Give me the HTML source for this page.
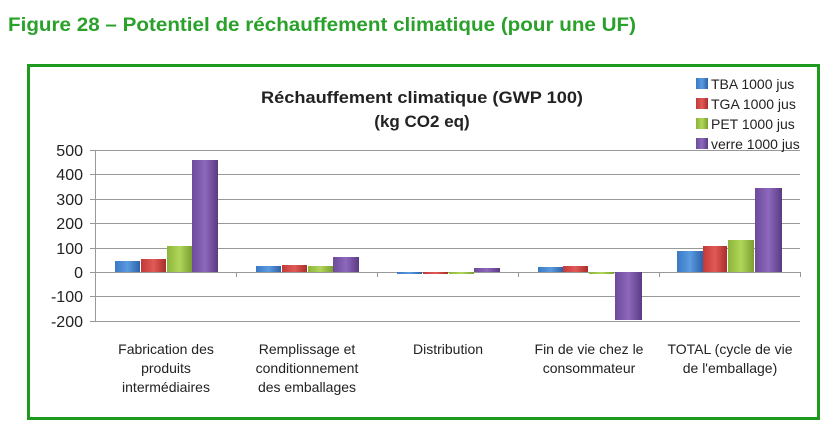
<!DOCTYPE html>
<html><head><meta charset="utf-8"><style>
body{margin:0;background:#fff;width:835px;height:443px;overflow:hidden;font-family:"Liberation Sans",sans-serif}
</style></head><body>
<svg width="835" height="443" xmlns="http://www.w3.org/2000/svg" font-family="Liberation Sans, sans-serif">
<defs>
<linearGradient id="b" x1="0" x2="1"><stop offset="0" stop-color="#3a78c4"/><stop offset=".5" stop-color="#5b9be0"/><stop offset="1" stop-color="#2c62a8"/></linearGradient>
<linearGradient id="r" x1="0" x2="1"><stop offset="0" stop-color="#c23a37"/><stop offset=".5" stop-color="#e25a57"/><stop offset="1" stop-color="#a82e2b"/></linearGradient>
<linearGradient id="g" x1="0" x2="1"><stop offset="0" stop-color="#8db43a"/><stop offset=".5" stop-color="#b0d65a"/><stop offset="1" stop-color="#7ba030"/></linearGradient>
<linearGradient id="p" x1="0" x2="1"><stop offset="0" stop-color="#6d4a9a"/><stop offset=".5" stop-color="#8d68bd"/><stop offset="1" stop-color="#5a3b82"/></linearGradient>
</defs>
<text x="8" y="31" font-size="19" font-weight="bold" fill="#2aa12a" textLength="628" lengthAdjust="spacingAndGlyphs">Figure 28 – Potentiel de réchauffement climatique (pour une UF)</text>
<rect x="28.5" y="65.5" width="790" height="353" fill="#fff" stroke="#1e9a1e" stroke-width="3"/>
<text x="422" y="103" font-size="17" font-weight="bold" text-anchor="middle" fill="#222" textLength="322" lengthAdjust="spacingAndGlyphs">Réchauffement climatique (GWP 100)</text>
<text x="422" y="127" font-size="17" font-weight="bold" text-anchor="middle" fill="#222">(kg CO2 eq)</text>
<g stroke="#999" stroke-width="1">
<line x1="90" x2="800" y1="150.5" y2="150.5"/><line x1="90" x2="800" y1="174.5" y2="174.5"/>
<line x1="90" x2="800" y1="199.5" y2="199.5"/><line x1="90" x2="800" y1="223.5" y2="223.5"/>
<line x1="90" x2="800" y1="248.5" y2="248.5"/><line x1="90" x2="800" y1="296.5" y2="296.5"/>
<line x1="90" x2="800" y1="321.5" y2="321.5"/><line x1="95.5" x2="95.5" y1="150" y2="321"/>
<line x1="90" x2="800" y1="272.5" y2="272.5"/>
<line x1="236.5" x2="236.5" y1="272" y2="277"/><line x1="377.5" x2="377.5" y1="272" y2="277"/>
<line x1="518.5" x2="518.5" y1="272" y2="277"/><line x1="659.5" x2="659.5" y1="272" y2="277"/><line x1="800.5" x2="800.5" y1="272" y2="277"/>
</g>
<g font-size="16" fill="#222" text-anchor="end">
<text x="83" y="156">500</text><text x="83" y="180">400</text><text x="83" y="205">300</text><text x="83" y="229">200</text>
<text x="83" y="254">100</text><text x="83" y="278">0</text><text x="83" y="302">-100</text><text x="83" y="327">-200</text>
</g>
<g id="bars">
<rect x="115" y="261" width="25" height="11" fill="url(#b)"/><rect x="141" y="259" width="25" height="13" fill="url(#r)"/>
<rect x="167" y="246" width="25" height="26" fill="url(#g)"/><rect x="192" y="160" width="26" height="112" fill="url(#p)"/>
<rect x="256" y="266" width="25" height="6" fill="url(#b)"/><rect x="282" y="265" width="25" height="7" fill="url(#r)"/>
<rect x="308" y="266" width="25" height="6" fill="url(#g)"/><rect x="333" y="257" width="26" height="15" fill="url(#p)"/>
<rect x="397" y="272" width="25" height="2" fill="url(#b)"/><rect x="423" y="272" width="25" height="2" fill="url(#r)"/>
<rect x="449" y="272" width="25" height="2" fill="url(#g)"/><rect x="474" y="268" width="26" height="4" fill="url(#p)"/>
<rect x="538" y="267" width="25" height="5" fill="url(#b)"/><rect x="563" y="266" width="25" height="6" fill="url(#r)"/>
<rect x="589" y="272" width="25" height="2" fill="url(#g)"/><rect x="615" y="272" width="27" height="48" fill="url(#p)"/>
<rect x="677" y="251" width="26" height="21" fill="url(#b)"/><rect x="703" y="246" width="24" height="26" fill="url(#r)"/>
<rect x="728" y="240" width="26" height="32" fill="url(#g)"/><rect x="755" y="188" width="27" height="84" fill="url(#p)"/>
</g>
<g font-size="14" fill="#222" text-anchor="middle">
<text x="166" y="354">Fabrication des</text><text x="166" y="373">produits</text><text x="166" y="392">intermédiaires</text>
<text x="307" y="354">Remplissage et</text><text x="307" y="373">conditionnement</text><text x="307" y="392">des emballages</text>
<text x="448" y="354">Distribution</text>
<text x="589" y="354">Fin de vie chez le</text><text x="589" y="373">consommateur</text>
<text x="730" y="354">TOTAL (cycle de vie</text><text x="730" y="373">de l'emballage)</text>
</g>
<g font-size="14" fill="#222">
<rect x="696" y="78" width="12" height="11" fill="url(#b)"/><text x="711" y="89">TBA 1000 jus</text>
<rect x="696" y="98" width="12" height="11" fill="url(#r)"/><text x="711" y="109">TGA 1000 jus</text>
<rect x="696" y="118" width="12" height="11" fill="url(#g)"/><text x="711" y="129">PET 1000 jus</text>
<rect x="696" y="138" width="12" height="11" fill="url(#p)"/><text x="711" y="149">verre 1000 jus</text>
</g>
</svg>
</body></html>
